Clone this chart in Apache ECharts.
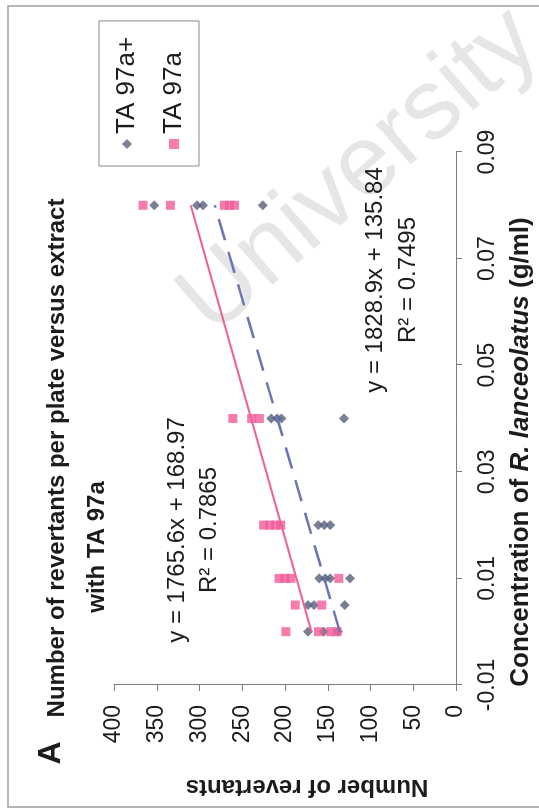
<!DOCTYPE html>
<html><head><meta charset="utf-8">
<script src="https://cdn.jsdelivr.net/npm/echarts@6/dist/echarts.min.js"></script>
<style>
html,body{margin:0;padding:0;background:#fff;overflow:hidden;width:539px;height:812px}
#wrap{position:absolute;left:0;top:0;width:812px;height:539px;transform-origin:0 0;transform:translateY(812px) rotate(-90deg);}
</style></head><body>
<div id="wrap"></div>
<script>
// ---- data ----
const seriesNames = ['TA 97a+', 'TA 97a'];
const plusConc = [0,0,0, 0.005,0.005,0.005, 0.01,0.01,0.01,0.01, 0.02,0.02,0.02, 0.04,0.04,0.04,0.04, 0.08,0.08,0.08,0.08];
const plusRev  = [173,155,138, 173,166,130, 160,153,147,124, 161,154,147, 216,209,204,131, 353,303,296,226];
const baseConc = [0,0,0,0, 0.005,0.005, 0.01,0.01,0.01,0.01, 0.02,0.02,0.02,0.02, 0.04,0.04,0.04, 0.08,0.08,0.08,0.08,0.08];
const baseRev  = [199,161,147,139, 188,157, 207,200,193,137, 225,218,211,205, 261,239,230, 366,334,271,265,259];
const trendSlope = [1828.9, 1765.6];
const trendIntercept = [135.84, 168.97];
const trendR2 = [0.7495, 0.7865];
const trendRange = [0, 0.08];
const concTicks = [-0.01, 0.01, 0.03, 0.05, 0.07, 0.09];
const revTicks = [0, 50, 100, 150, 200, 250, 300, 350, 400];

const FONT = '"Liberation Sans", Arial, sans-serif';
const TXT = '#1c1c1c';
const AX = '#7d7d7d';
const BLUE = '#57607c';
const PINK = '#f25b98';
const BLUE_LINE = '#6d74b6';
const PINK_LINE = '#f0609a';

const zip = (a, b) => a.map((v, i) => [v, b[i]]);
const trend = i => trendRange.map(x => [x, trendIntercept[i] + trendSlope[i] * x]);
const eqText = i => 'y = ' + trendSlope[i] + 'x + ' + trendIntercept[i] + '\nR\u00b2 = ' + trendR2[i];

const chart = echarts.init(document.getElementById('wrap'), null, {width: 812, height: 539, renderer: 'canvas'});
chart.setOption({
  backgroundColor: '#fff',
  animation: false,
  textStyle: {fontFamily: FONT},
  grid: {left: 127, right: 152, top: 114, bottom: 83, containLabel: false, outerBoundsMode: 'none'},
  xAxis: {
    type: 'value', min: concTicks[0], max: concTicks[concTicks.length - 1], interval: 0.02,
    axisLine: {show: true, onZero: false, lineStyle: {color: AX, width: 1}},
    axisTick: {show: true, length: 6, customValues: concTicks, lineStyle: {color: AX}},
    axisLabel: {customValues: concTicks, formatter: v => v.toFixed(2), fontSize: 23, margin: 20, color: TXT, fontFamily: FONT},
    splitLine: {show: false}
  },
  yAxis: {
    type: 'value', min: revTicks[0], max: revTicks[revTicks.length - 1], interval: 50,
    axisLine: {show: true, onZero: false, lineStyle: {color: AX, width: 1}},
    axisTick: {show: true, length: 6, lineStyle: {color: AX}},
    axisLabel: {fontSize: 23, margin: 20, color: TXT, fontFamily: FONT},
    splitLine: {show: false}
  },
  legend: {
    data: seriesNames, orient: 'vertical', left: 646, top: 99,
    padding: [15, 16, 12, 17], itemGap: 21, itemWidth: 10, itemHeight: 10,
    borderColor: '#8a8a8a', borderWidth: 1, backgroundColor: '#fff', selectedMode: false,
    textStyle: {fontSize: 26, color: TXT, fontFamily: FONT, lineHeight: 24}
  },
  graphic: [
    {type: 'rect', z: 0, shape: {x: 5, y: 8, width: 801, height: 540}, style: {fill: 'none', stroke: '#a29aa2', lineWidth: 1.5}},
    {type: 'text', z: 0, x: 640, y: 360, rotation: -0.855, style: {text: 'University', font: '100px ' + FONT, fill: '#e6e6e6', align: 'center', verticalAlign: 'middle'}},
    {type: 'text', z: 10, x: 59, y: 51, style: {text: 'A', font: 'bold 32px ' + FONT, fill: TXT, align: 'center', verticalAlign: 'middle'}},
    {type: 'text', z: 10, x: 354, y: 57, style: {text: 'Number of revertants per plate versus extract', font: 'bold 24px ' + FONT, fill: TXT, align: 'center', verticalAlign: 'middle'}},
    {type: 'text', z: 10, x: 265, y: 97, style: {text: 'with TA 97a', font: 'bold 24px ' + FONT, fill: TXT, align: 'center', verticalAlign: 'middle'}},
    {type: 'text', z: 10, x: 25, y: 307, rotation: Math.PI / 2, style: {text: 'Number of revertants', font: 'bold 24px ' + FONT, fill: TXT, align: 'center', verticalAlign: 'middle'}},
    {type: 'text', z: 10, x: 360, y: 521, style: {
      text: '{b|Concentration of }{i|R. lanceolatus}{b| (g/ml)}', align: 'center', verticalAlign: 'middle',
      rich: {b: {fontSize: 26, fontWeight: 'bold', fontFamily: FONT, fill: TXT}, i: {fontSize: 26, fontWeight: 'bold', fontStyle: 'italic', fontFamily: FONT, fill: TXT}}}},
    {type: 'text', z: 10, x: 282, y: 193, style: {text: eqText(1), font: '24px ' + FONT, lineHeight: 32, fill: TXT, align: 'center', verticalAlign: 'middle'}},
    {type: 'text', z: 10, x: 532, y: 392, style: {text: eqText(0), font: '24px ' + FONT, lineHeight: 33, fill: TXT, align: 'center', verticalAlign: 'middle'}}
  ],
  series: [
    {name: seriesNames[0], type: 'scatter', symbol: 'diamond', symbolSize: 10, itemStyle: {color: BLUE}, data: zip(plusConc, plusRev), z: 3},
    {name: seriesNames[1], type: 'scatter', symbol: 'rect', symbolSize: 9, itemStyle: {color: PINK}, data: zip(baseConc, baseRev), z: 3},
    {name: 'trend ' + seriesNames[0], type: 'line', data: trend(0), symbol: 'none', lineStyle: {color: BLUE_LINE, width: 2.5, type: [22, 12]}, z: 4},
    {name: 'trend ' + seriesNames[1], type: 'line', data: trend(1), symbol: 'none', lineStyle: {color: PINK_LINE, width: 2}, z: 4}
  ]
});
</script>
</body></html>
